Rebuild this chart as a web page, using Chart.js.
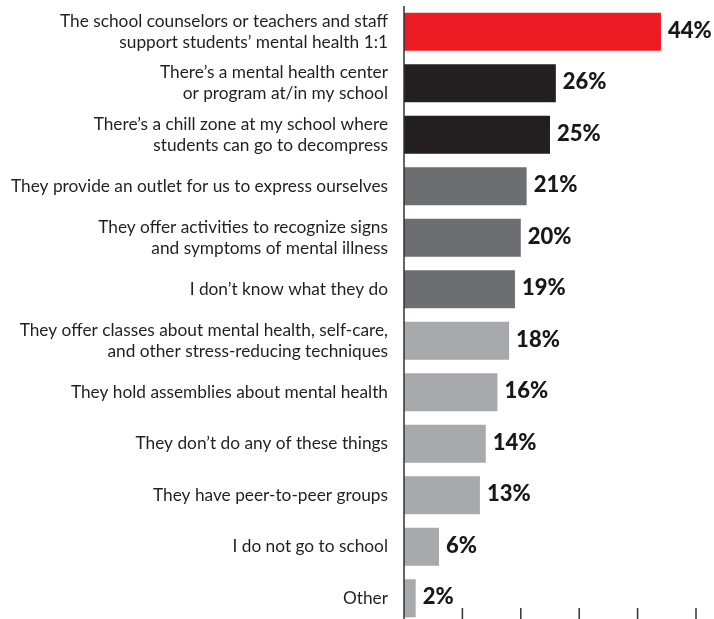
<!DOCTYPE html>
<html>
<head>
<meta charset="utf-8">
<script src="https://cdn.jsdelivr.net/npm/chart.js@4"></script>
<style>
html,body{margin:0;padding:0;overflow:hidden;background:#fff;}
canvas{display:block;}
</style>
</head>
<body>
<canvas id="c" width="714" height="624" style="width:714px;height:624px;"></canvas>
<script>
const categories = [
  ["The school counselors or teachers and staff", "support students’ mental health 1:1"],
  ["There’s a mental health center", "or program at/in my school"],
  ["There’s a chill zone at my school where", "students can go to decompress"],
  "They provide an outlet for us to express ourselves",
  ["They offer activities to recognize signs", "and symptoms of mental illness"],
  "I don’t know what they do",
  ["They offer classes about mental health, self-care,", "and other stress-reducing techniques"],
  "They hold assemblies about mental health",
  "They don’t do any of these things",
  "They have peer-to-peer groups",
  "I do not go to school",
  "Other"
];
const values = [44, 26, 25, 21, 20, 19, 18, 16, 14, 13, 6, 2];
const groups = [0, 1, 1, 2, 2, 2, 3, 3, 3, 3, 3, 3];
const groupColors = ["#ED1C24", "#231F20", "#6D6E71", "#A7A9AC"];
const xTicks = [10, 20, 30, 40, 50];

const valueLabels = {
  id: 'valueLabels',
  afterDatasetsDraw(chart) {
    const ctx = chart.ctx;
    const meta = chart.getDatasetMeta(0);
    ctx.save();
    ctx.font = '900 22px Lato';
    ctx.fillStyle = '#1a1718';
    ctx.textAlign = 'left';
    ctx.textBaseline = 'middle';
    meta.data.forEach((bar, i) => {
      ctx.fillText(values[i] + '%', bar.x + 7, bar.y - 1);
    });
    ctx.restore();
  }
};

const axisMarks = {
  id: 'axisMarks',
  afterDraw(chart) {
    const ctx = chart.ctx;
    const xs = chart.scales.x;
    const area = chart.chartArea;
    ctx.save();
    ctx.strokeStyle = '#333333';
    ctx.lineWidth = 1.5;
    ctx.beginPath();
    const x0 = xs.getPixelForValue(0);
    ctx.moveTo(x0, area.top);
    ctx.lineTo(x0, area.bottom);
    xTicks.forEach(v => {
      const x = xs.getPixelForValue(v);
      ctx.moveTo(x, area.bottom - 16);
      ctx.lineTo(x, area.bottom);
    });
    ctx.stroke();
    ctx.restore();
  }
};

new Chart(document.getElementById('c'), {
  type: 'bar',
  data: {
    labels: categories,
    datasets: [{
      data: values,
      backgroundColor: groups.map(g => groupColors[g]),
      borderWidth: 0,
      barPercentage: 1,
      categoryPercentage: 0.738
    }]
  },
  options: {
    indexAxis: 'y',
    responsive: false,
    devicePixelRatio: 1,
    animation: false,
    layout: { padding: { top: 6, right: 18, bottom: 0, left: 0 } },
    plugins: { legend: { display: false }, tooltip: { enabled: false } },
    scales: {
      x: {
        display: false,
        min: 0,
        max: 50
      },
      y: {
        afterFit(scale) {
          scale.width = 404;
          scale.paddingTop = 0;
          scale.paddingBottom = 0;
        },
        grid: { display: false },
        border: { display: false },
        ticks: {
          color: '#231F20',
          font: { family: 'Lato', size: 17.3, lineHeight: '21px' },
          padding: 8,
          autoSkip: false
        }
      }
    }
  },
  plugins: [valueLabels, axisMarks]
});
</script>
</body>
</html>
